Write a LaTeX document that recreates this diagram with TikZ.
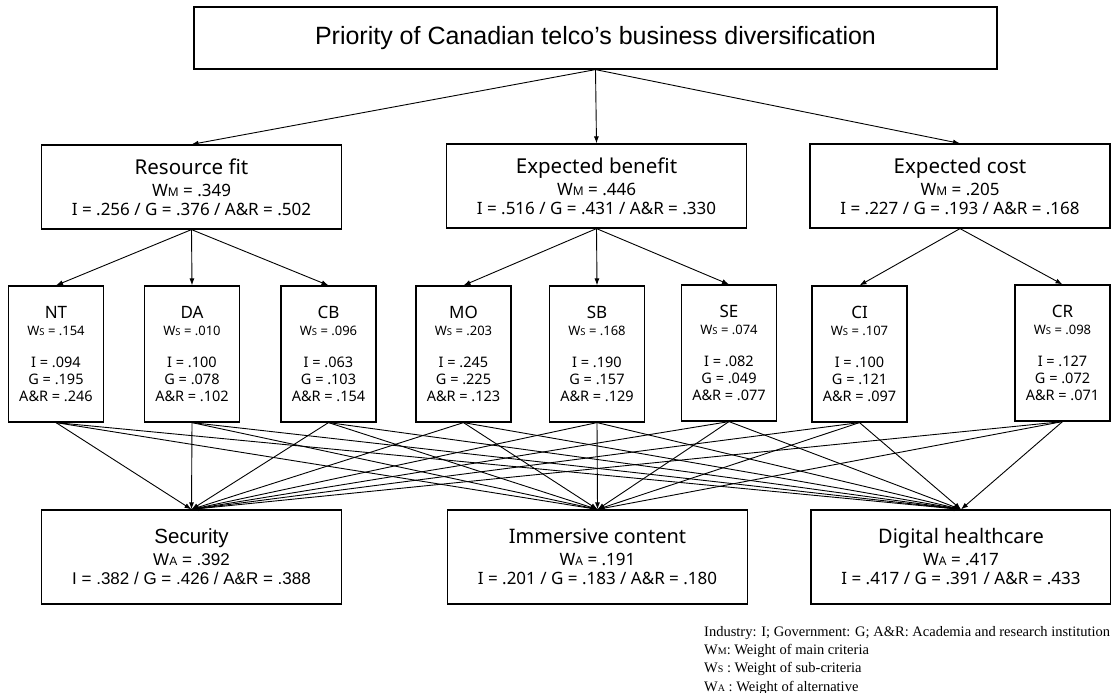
\documentclass[tikz,border=0pt]{standalone}
\usepackage{fontspec}
\setmainfont{Noto Sans}
\newfontfamily\arialfont{Liberation Sans}
\newfontfamily\timesfont{Liberation Serif}
\usepackage{tikz}
\usetikzlibrary{arrows.meta}

\newcommand{\sz}[1]{\fontsize{#1}{18}\selectfont}
\newcommand{\wgt}[2]{W{\fontsize{#2}{#2}\selectfont #1}}

\tikzset{
    goalbox/.style={draw, line width=1.2pt, minimum width=803pt, minimum height=62pt,
        inner sep=0pt, font=\arialfont\fontsize{25}{28}\selectfont},
    critbox/.style={draw, line width=1.2pt, minimum width=300pt, minimum height=84pt,
        inner sep=0pt, align=center, font=\fontsize{17}{18}\selectfont},
    subbox/.style={draw, line width=1.2pt, minimum width=95pt, minimum height=136pt,
        inner sep=0pt, align=center, font=\fontsize{14.5}{17}\selectfont},
    altbox/.style={draw, line width=1.2pt, minimum width=300pt, minimum height=94pt,
        inner sep=0pt, align=center, font=\fontsize{17}{18}\selectfont},
    link/.style={-{Latex[length=7pt,width=5pt]}, line width=0.9pt}
}

\begin{document}
\begin{tikzpicture}[x=1pt, y=-1pt]
        \useasboundingbox (0, 0) rectangle (1111, 693);

        \node[goalbox] (goal) at (595.5, 38) {Priority of Canadian telco’s business diversification};

        \node[critbox] (rf) at (191.5, 187) {{\sz{20.5}Resource fit}\\[4pt]
            \wgt{M}{12} = .349\\[1pt] I = .256 / G = .376 / A\&R = .502};
        \node[critbox] (eb) at (596.5, 186) {{\sz{20.5}Expected benefit}\\[4pt]
            \wgt{M}{12} = .446\\[1pt] I = .516 / G = .431 / A\&R = .330};
        \node[critbox] (ec) at (960, 186) {{\sz{20.5}Expected cost}\\[4pt]
            \wgt{M}{12} = .205\\[1pt] I = .227 / G = .193 / A\&R = .168};

        \node[subbox] (nt) at (56, 354) {{\sz{17}NT}\\ {\sz{13}\wgt{S}{9.5} = .154}\\[15pt]
            I = .094\\ G = .195\\ A\&R = .246};
        \node[subbox] (da) at (192, 354) {{\sz{17}DA}\\ {\sz{13}\wgt{S}{9.5} = .010}\\[15pt]
            I = .100\\ G = .078\\ A\&R = .102};
        \node[subbox] (cb) at (328.5, 354) {{\sz{17}CB}\\ {\sz{13}\wgt{S}{9.5} = .096}\\[15pt]
            I = .063\\ G = .103\\ A\&R = .154};
        \node[subbox] (mo) at (463.5, 354) {{\sz{17}MO}\\ {\sz{13}\wgt{S}{9.5} = .203}\\[15pt]
            I = .245\\ G = .225\\ A\&R = .123};
        \node[subbox] (sb) at (597, 354) {{\sz{17}SB}\\ {\sz{13}\wgt{S}{9.5} = .168}\\[15pt]
            I = .190\\ G = .157\\ A\&R = .129};
        \node[subbox] (se) at (729, 353) {{\sz{17}SE}\\ {\sz{13}\wgt{S}{9.5} = .074}\\[15pt]
            I = .082\\ G = .049\\ A\&R = .077};
        \node[subbox] (ci) at (859.5, 354) {{\sz{17}CI}\\ {\sz{13}\wgt{S}{9.5} = .107}\\[15pt]
            I = .100\\ G = .121\\ A\&R = .097};
        \node[subbox] (cr) at (1062.5, 353) {{\sz{17}CR}\\ {\sz{13}\wgt{S}{9.5} = .098}\\[15pt]
            I = .127\\ G = .072\\ A\&R = .071};

        \node[altbox, font=\arialfont\fontsize{17}{18}\selectfont] (sec) at (191.5, 557)
            {{\sz{20.5}Security}\\[4pt] \wgt{A}{12} = .392\\[1pt] I = .382 / G = .426 / A\&R = .388};
        \node[altbox] (imm) at (597.5, 557)
            {{\sz{20}Immersive content}\\[4pt] \wgt{A}{12} = .191\\[1pt] I = .201 / G = .183 / A\&R = .180};
        \node[altbox] (dig) at (961, 557)
            {{\sz{20}Digital healthcare}\\[4pt] \wgt{A}{12} = .417\\[1pt] I = .417 / G = .391 / A\&R = .433};

        \node[anchor=north west, align=left, inner sep=0pt, font=\timesfont\fontsize{14.5}{18.3}\selectfont]
            (legend) at (704, 626) {Industry: I; Government: G; A\&R: Academia and research institution\\
            \wgt{M}{10}: Weight of main criteria\\
            \wgt{S}{10} : Weight of sub-criteria\\
            \wgt{A}{10} : Weight of alternative};

        \draw[link] (goal.south) -- (rf.north);
        \draw[link] (goal.south) -- (eb.north);
        \draw[link] (goal.south) -- (ec.north);

        \draw[link] (rf.south) -- (nt.north);
        \draw[link] (rf.south) -- (da.north);
        \draw[link] (rf.south) -- (cb.north);
        \draw[link] (eb.south) -- (mo.north);
        \draw[link] (eb.south) -- (sb.north);
        \draw[link] (eb.south) -- (se.north);
        \draw[link] (ec.south) -- (ci.north);
        \draw[link] (ec.south) -- (cr.north);

        \draw[link] (nt.south) -- (sec.north); \draw[link] (nt.south) -- (imm.north); \draw[link] (nt.south) -- (dig.north);
        \draw[link] (da.south) -- (sec.north); \draw[link] (da.south) -- (imm.north); \draw[link] (da.south) -- (dig.north);
        \draw[link] (cb.south) -- (sec.north); \draw[link] (cb.south) -- (imm.north); \draw[link] (cb.south) -- (dig.north);
        \draw[link] (mo.south) -- (sec.north); \draw[link] (mo.south) -- (imm.north); \draw[link] (mo.south) -- (dig.north);
        \draw[link] (sb.south) -- (sec.north); \draw[link] (sb.south) -- (imm.north); \draw[link] (sb.south) -- (dig.north);
        \draw[link] (se.south) -- (sec.north); \draw[link] (se.south) -- (imm.north); \draw[link] (se.south) -- (dig.north);
        \draw[link] (ci.south) -- (sec.north); \draw[link] (ci.south) -- (imm.north); \draw[link] (ci.south) -- (dig.north);
        \draw[link] (cr.south) -- (sec.north); \draw[link] (cr.south) -- (imm.north); \draw[link] (cr.south) -- (dig.north);
    \end{tikzpicture}
\end{document}
